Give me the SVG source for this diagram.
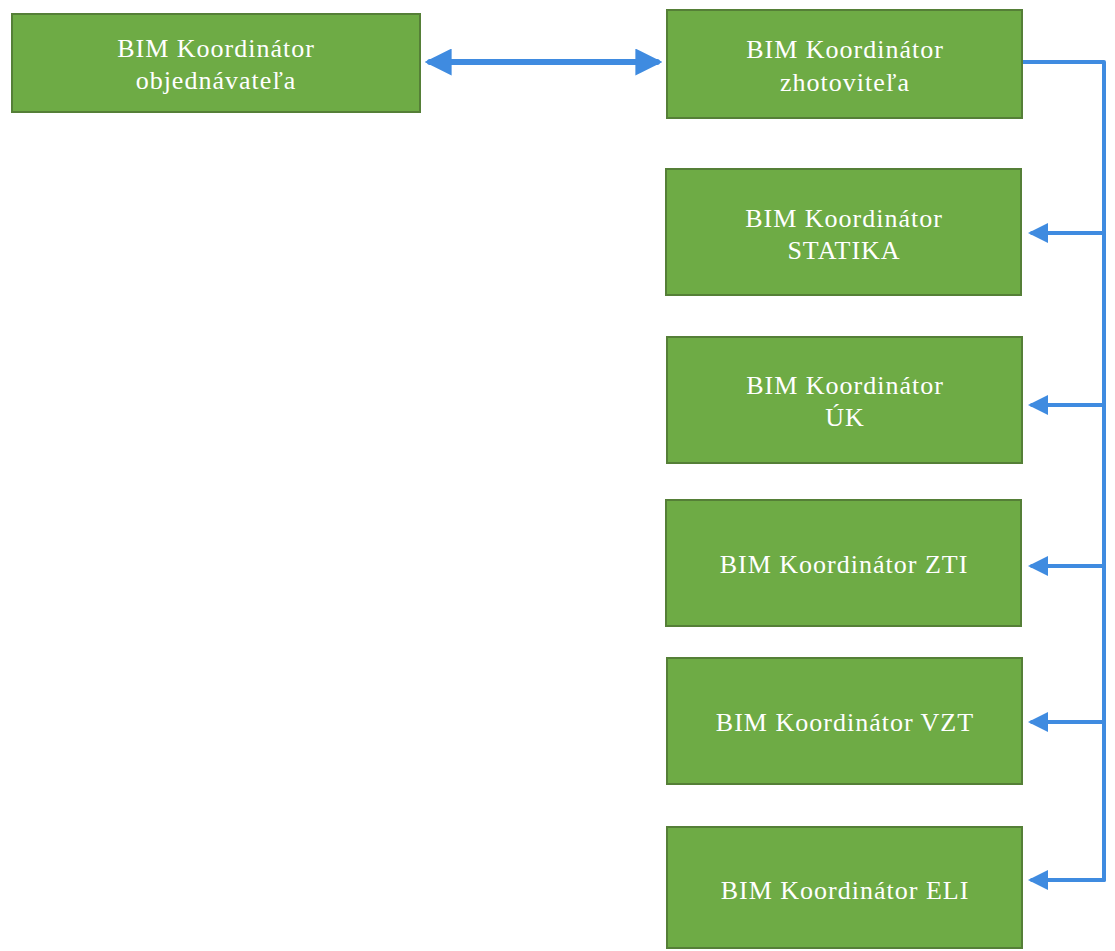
<svg xmlns="http://www.w3.org/2000/svg" width="1115" height="951" viewBox="0 0 1115 951">
<style>
.box{fill:#6eab45;stroke:#557f37;stroke-width:2}
.t{fill:#ffffff;font-family:"Liberation Serif","DejaVu Serif",serif;font-size:26px;letter-spacing:1px;text-anchor:middle}
.c{fill:none;stroke:#3f8be0;stroke-linecap:round;stroke-linejoin:round}
</style>
<defs>
<marker id="ah" viewBox="0 0 10 10" refX="8" refY="5" markerWidth="4.5" markerHeight="4.5" orient="auto-start-reverse" markerUnits="strokeWidth">
<path d="M0,0 L10,5 L0,10 Z" fill="#3f8be0"/>
</marker>
<marker id="ah2" viewBox="0 0 10 10" refX="8" refY="5" markerWidth="5" markerHeight="5" orient="auto" markerUnits="strokeWidth">
<path d="M0,0 L10,5 L0,10 Z" fill="#3f8be0"/>
</marker>
</defs>
<rect width="1115" height="951" fill="#ffffff"/>
<g id="connectors">
<line class="c" x1="430" y1="62" x2="657" y2="62" stroke-width="6" marker-start="url(#ah)" marker-end="url(#ah)"/>
<polyline class="c" points="1022,62 1104,62 1104,880" stroke-width="4"/>
<line class="c" x1="1104" y1="233" x2="1032" y2="233" stroke-width="4" marker-end="url(#ah2)"/>
<line class="c" x1="1104" y1="405" x2="1032" y2="405" stroke-width="4" marker-end="url(#ah2)"/>
<line class="c" x1="1104" y1="566" x2="1032" y2="566" stroke-width="4" marker-end="url(#ah2)"/>
<line class="c" x1="1104" y1="722" x2="1032" y2="722" stroke-width="4" marker-end="url(#ah2)"/>
<line class="c" x1="1104" y1="880" x2="1032" y2="880" stroke-width="4" marker-end="url(#ah2)"/>
</g>
<g id="n1">
<rect class="box" x="12" y="14" width="408" height="98"/>
<text class="t" x="216" y="57">BIM Koordinátor</text>
<text class="t" x="216" y="89">objednávateľa</text>
</g>
<g id="n2">
<rect class="box" x="667" y="10" width="355" height="108"/>
<text class="t" x="845" y="58">BIM Koordinátor</text>
<text class="t" x="845" y="91">zhotoviteľa</text>
</g>
<g id="n3">
<rect class="box" x="666" y="169" width="355" height="126"/>
<text class="t" x="844" y="227">BIM Koordinátor</text>
<text class="t" x="844" y="259">STATIKA</text>
</g>
<g id="n4">
<rect class="box" x="667" y="337" width="355" height="126"/>
<text class="t" x="845" y="394">BIM Koordinátor</text>
<text class="t" x="845" y="426">ÚK</text>
</g>
<g id="n5">
<rect class="box" x="666" y="500" width="355" height="126"/>
<text class="t" x="844" y="573">BIM Koordinátor ZTI</text>
</g>
<g id="n6">
<rect class="box" x="667" y="658" width="355" height="126"/>
<text class="t" x="845" y="731">BIM Koordinátor VZT</text>
</g>
<g id="n7">
<rect class="box" x="667" y="827" width="355" height="121"/>
<text class="t" x="845" y="899">BIM Koordinátor ELI</text>
</g>
</svg>
